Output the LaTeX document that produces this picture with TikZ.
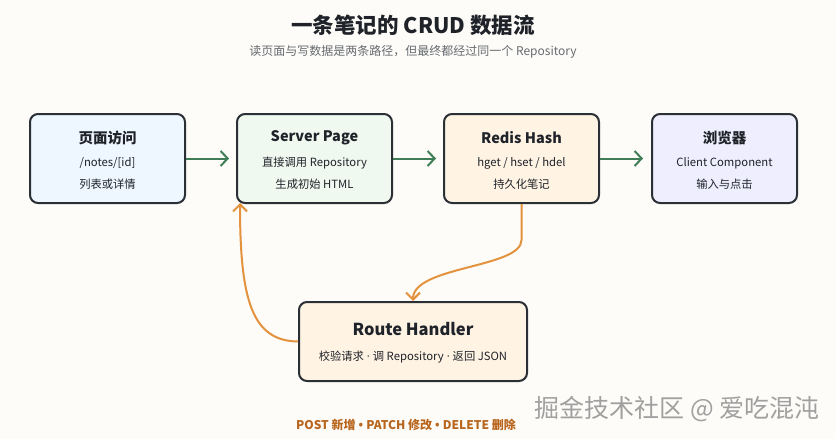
\documentclass[tikz,border=0pt]{standalone}
\usepackage{fontspec}
\setmainfont{Noto Sans CJK SC}
\newfontfamily\latf{Open Sans}
\usetikzlibrary{arrows.meta}
\definecolor{bgc}{HTML}{FEFCF8}
\definecolor{edge}{HTML}{2B2F36}
\definecolor{fblue}{HTML}{EEF6FF}
\definecolor{fgreen}{HTML}{EFF9F0}
\definecolor{forange}{HTML}{FFF3E4}
\definecolor{fviolet}{HTML}{EEEEFE}
\definecolor{gline}{HTML}{3F7D56}
\definecolor{oline}{HTML}{E3923E}
\definecolor{subc}{HTML}{666B70}
\definecolor{titc}{HTML}{1F2329}
\definecolor{botc}{HTML}{B8651E}
\definecolor{wmc}{HTML}{A0A0A0}
\tikzset{
  box/.style={draw=edge, line width=2pt, rounded corners=8pt, minimum height=89pt, inner sep=0pt},
  btitle/.style={font=\bfseries\fontsize{14.5}{16}\selectfont, text=titc, inner sep=0pt},
  bline/.style={font=\fontsize{11.3}{13}\selectfont, text=titc, inner sep=0pt},
  garrow/.style={draw=gline, line width=2pt, -{Straight Barb[length=7pt,width=15pt]}},
  oarrow/.style={draw=oline, line width=2pt, -{Straight Barb[length=7pt,width=14pt]}}
}
\begin{document}
\begin{tikzpicture}[x=1pt,y=-1pt]
\fill[bgc] (0,0) rectangle (836,439);
\useasboundingbox (0,0) rectangle (836,439);

\node[font=\bfseries\fontsize{21.5}{24}\selectfont, text=titc, inner sep=0pt] (title) at (413,25) {一条笔记的 CRUD 数据流};
\node[font=\fontsize{12}{14}\selectfont, text=subc, inner sep=0pt] (subtitle) at (413,52) {读页面与写数据是两条路径，但最终都经过同一个 Repository};

\node[box, fill=fblue, minimum width=155pt] (b1) at (107.5,158.5) {};
\node[box, fill=fgreen, minimum width=155pt] (b2) at (314.5,158.5) {};
\node[box, fill=forange, minimum width=155pt] (b3) at (521.5,158.5) {};
\node[box, fill=fviolet, minimum width=145pt] (b4) at (724.5,158.5) {};
\node[box, fill=forange, minimum width=228pt, minimum height=79pt] (b5) at (413,341.5) {};

\node[btitle] (t1) at (107.5,138) {页面访问};
\node[bline] (l1a) at (107.5,163) {/notes/[id]};
\node[bline] (l1b) at (107.5,184) {列表或详情};

\node[btitle] (t2) at (314.5,138) {Server Page};
\node[bline] (l2a) at (314.5,163) {直接调用 Repository};
\node[bline] (l2b) at (314.5,184) {生成初始 HTML};

\node[btitle] (t3) at (521.5,138) {Redis Hash};
\node[bline] (l3a) at (521.5,163) {hget / hset / hdel};
\node[bline] (l3b) at (521.5,184) {持久化笔记};

\node[btitle] (t4) at (724.5,138) {浏览器};
\node[bline] (l4a) at (724.5,163) {Client Component};
\node[bline] (l4b) at (724.5,184) {输入与点击};

\node[btitle, font=\bfseries\fontsize{16.5}{18}\selectfont] (t5) at (413,329) {Route Handler};
\node[bline] (l5a) at (413,357) {校验请求{\latf\ ·\ }调 Repository{\latf\ ·\ }返回 JSON};

\draw[garrow, shorten >=7pt] (b1.east) -- (b2.west);
\draw[garrow, shorten >=7pt] (b2.east) -- (b3.west);
\draw[garrow, shorten >=8pt] (b3.east) -- (b4.west);

\coordinate (bend) at (521.5,240);
\draw[oarrow] (b3.south) -- (bend) .. controls (521.5,268) and (413,266) .. (b5.north);
\coordinate (upend) at (240,203);
\draw[oarrow] (b5.west) .. controls (252,341) and (240,300) .. (upend);

\node[font=\bfseries\fontsize{12}{14}\selectfont, text=botc, inner sep=0pt] (bottom) at (406,425) {POST 新增{\latf\bfseries\ •\ }PATCH 修改{\latf\bfseries\ •\ }DELETE 删除};
\node[font=\fontsize{25}{28}\selectfont, text=wmc, inner sep=0pt] (wm) at (677,409) {掘金技术社区 @ 爱吃混沌};
\end{tikzpicture}
\end{document}
